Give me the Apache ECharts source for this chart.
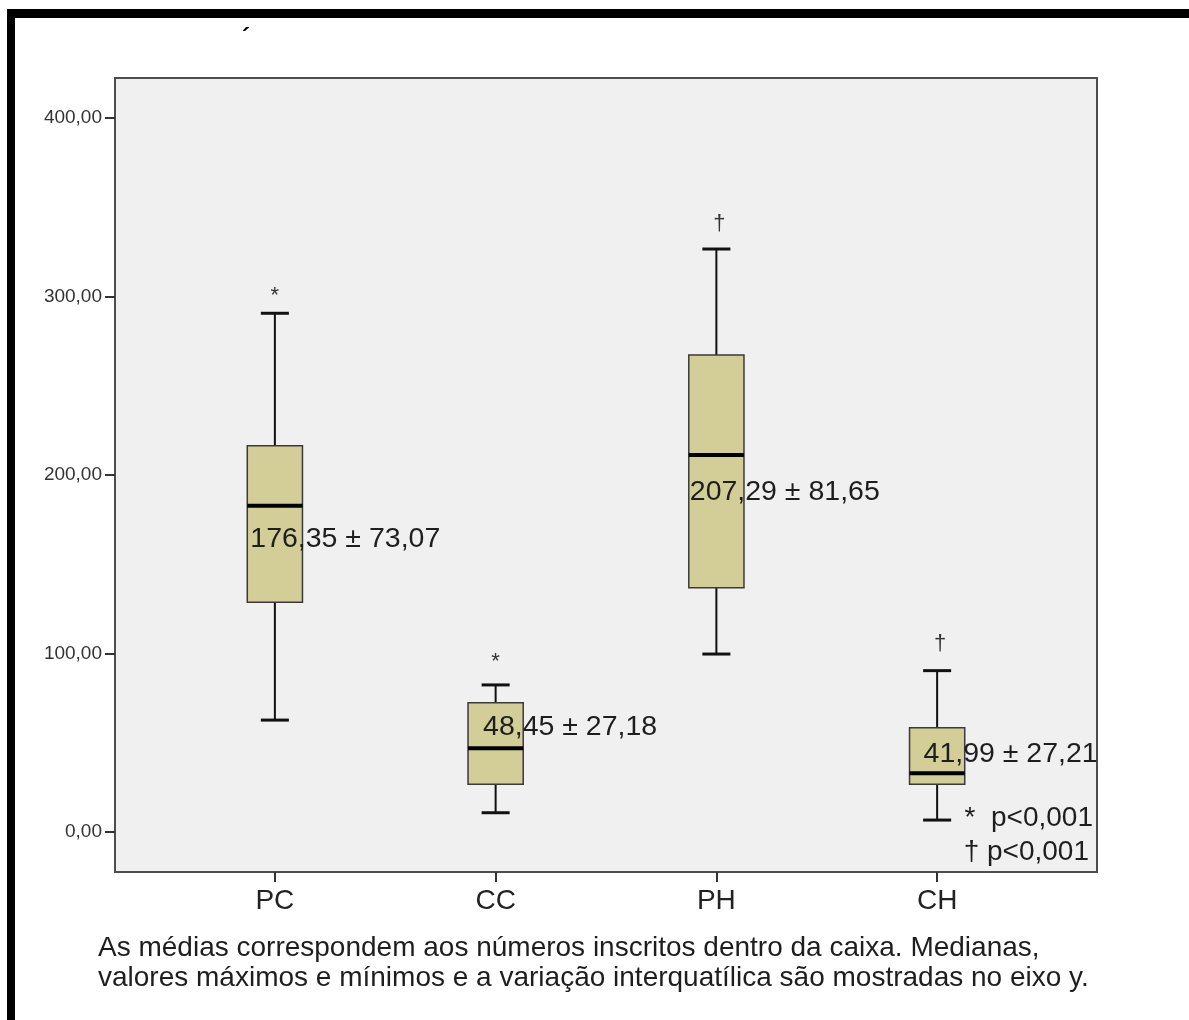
<!DOCTYPE html>
<html><head><meta charset="utf-8">
<style>html,body{margin:0;padding:0;background:#fff}#c{width:1189px;height:1020px}</style>
<script src="https://cdn.jsdelivr.net/npm/echarts@6/dist/echarts.min.js"></script>
</head><body><div id="c"></div>
<script>
const categories = ['PC', 'CC', 'PH', 'CH'];
const whiskerLow = [62.7, 10.8, 99.7, 6.7];
const q1 = [128.7, 26.7, 136.9, 26.7];
const medians = [182.8, 46.9, 211.2, 32.9];
const q3 = [216.4, 72.4, 267.2, 58.4];
const whiskerHigh = [290.6, 82.4, 326.6, 90.4];
const meanLabels = ['176,35 ± 73,07', '48,45 ± 27,18', '207,29 ± 81,65', '41,99 ± 27,21'];
const meanLabelAt = [164.1, 58.8, 190.6, 43.7];
const markers = ['*', '*', '†', '†'];
const yTicks = [0, 100, 200, 300, 400];
const captionLines = [
  'As médias correspondem aos números inscritos dentro da caixa. Medianas,',
  'valores máximos e mínimos e a variação interquatílica são mostradas no eixo y.'
];
const pNotes = ['*  p<0,001', '† p<0,001'];

const FONT = '"Liberation Sans", Arial, sans-serif';
const Y_MIN = -22.4, Y_MAX = 422.4;
const labelShift = [3, 15, 1, 14];
const markerLift = [6, 12, 14, 16];

const chart = echarts.init(document.getElementById('c'), null, {renderer: 'canvas'});

const boxData = categories.map((c, i) => [i, whiskerLow[i], q1[i], medians[i], q3[i], whiskerHigh[i]]);

const option = {
  animation: false,
  backgroundColor: '#ffffff',
  grid: [
    {left: 115, top: 78, width: 982, height: 794, show: true, backgroundColor: '#f0f0f0',
     borderColor: '#4d4d4d', borderWidth: 2, containLabel: false},
    {left: 164.5, top: 78, width: 883, height: 794, containLabel: false}
  ],
  xAxis: [
    {gridIndex: 0, type: 'value', min: 0, max: 1, show: false},
    {gridIndex: 1, type: 'category', data: categories, boundaryGap: true, position: 'bottom',
     axisLine: {show: false, onZero: false},
     axisTick: {show: true, alignWithLabel: true, length: 10, lineStyle: {color: '#333', width: 2}},
     axisLabel: {color: '#222', fontSize: 28, fontFamily: FONT, margin: 15},
     splitLine: {show: false}}
  ],
  yAxis: [
    {gridIndex: 0, type: 'value', min: Y_MIN, max: Y_MAX,
     axisLine: {show: false, onZero: false},
     axisTick: {show: true, length: 10, customValues: yTicks, lineStyle: {color: '#333', width: 2}},
     axisLabel: {show: true, customValues: yTicks, color: '#333', fontSize: 19, fontFamily: FONT, margin: 13,
                 formatter: v => v.toFixed(2).replace('.', ',')},
     splitLine: {show: false}},
    {gridIndex: 1, type: 'value', min: Y_MIN, max: Y_MAX, show: false, splitLine: {show: false}}
  ],
  series: [
    {
      type: 'custom', xAxisIndex: 1, yAxisIndex: 1, data: boxData,
      renderItem: function (params, api) {
        const i = api.value(0);
        const band = api.size([1, 0])[0];
        const bw = band * 0.25, cw = band * 0.127;
        const pLo = api.coord([i, api.value(1)]);
        const pQ1 = api.coord([i, api.value(2)]);
        const pMd = api.coord([i, api.value(3)]);
        const pQ3 = api.coord([i, api.value(4)]);
        const pHi = api.coord([i, api.value(5)]);
        const x = pLo[0];
        const ws = {stroke: '#111', lineWidth: 2};
        return {type: 'group', children: [
          {type: 'line', shape: {x1: x, y1: pHi[1], x2: x, y2: pQ3[1]}, style: ws},
          {type: 'line', shape: {x1: x, y1: pQ1[1], x2: x, y2: pLo[1]}, style: ws},
          {type: 'line', shape: {x1: x - cw / 2, y1: pHi[1], x2: x + cw / 2, y2: pHi[1]}, style: {stroke: '#111', lineWidth: 3}},
          {type: 'line', shape: {x1: x - cw / 2, y1: pLo[1], x2: x + cw / 2, y2: pLo[1]}, style: {stroke: '#111', lineWidth: 3}},
          {type: 'rect', shape: {x: x - bw / 2, y: pQ3[1], width: bw, height: pQ1[1] - pQ3[1]},
           style: {fill: '#d3ce97', stroke: '#3a3a3a', lineWidth: 1.5}},
          {type: 'line', shape: {x1: x - bw / 2, y1: pMd[1], x2: x + bw / 2, y2: pMd[1]}, style: {stroke: '#000', lineWidth: 4}}
        ]};
      }
    },
    {
      type: 'custom', xAxisIndex: 1, yAxisIndex: 1,
      data: categories.map((c, i) => [i, meanLabelAt[i]]),
      z: 5,
      renderItem: function (params, api) {
        const i = api.value(0);
        const band = api.size([1, 0])[0];
        const p = api.coord([i, api.value(1)]);
        return {type: 'text', x: p[0] - band * 0.125 + labelShift[i], y: p[1],
          style: {text: meanLabels[i], fill: '#1e1e1e', font: '28.5px ' + FONT, textAlign: 'left', textVerticalAlign: 'middle'}};
      }
    },
    {
      type: 'custom', xAxisIndex: 1, yAxisIndex: 1,
      data: categories.map((c, i) => [i, whiskerHigh[i]]),
      renderItem: function (params, api) {
        const i = api.value(0);
        const p = api.coord([i, api.value(1)]);
        return {type: 'text', x: p[0] + (markers[i] === '†' ? 3 : 0), y: p[1] - markerLift[i],
          style: {text: markers[i], fill: '#333', font: '22px ' + FONT, textAlign: 'center', textVerticalAlign: 'bottom'}};
      }
    }
  ],
  graphic: [
    {type: 'rect', left: 7, top: 9, shape: {width: 1182, height: 9}, style: {fill: '#000'}, silent: true},
    {type: 'rect', left: 7, top: 9, shape: {width: 8, height: 1011}, style: {fill: '#000'}, silent: true},
    {type: 'text', x: 246, y: 38, style: {text: '´', fill: '#000', font: 'bold 24px ' + FONT, textAlign: 'center', textVerticalAlign: 'middle'}},
    {type: 'text', x: 1093, y: 818, style: {text: pNotes[0], fill: '#1e1e1e', font: '28px ' + FONT, textAlign: 'right', textVerticalAlign: 'middle'}},
    {type: 'text', x: 1089, y: 852, style: {text: pNotes[1], fill: '#1e1e1e', font: '28px ' + FONT, textAlign: 'right', textVerticalAlign: 'middle'}},
    {type: 'text', x: 98, y: 948, style: {text: captionLines[0], fill: '#1e1e1e', font: '28px ' + FONT, textAlign: 'left', textVerticalAlign: 'middle'}},
    {type: 'text', x: 98, y: 978, style: {text: captionLines[1], fill: '#1e1e1e', font: '28px ' + FONT, textAlign: 'left', textVerticalAlign: 'middle'}}
  ]
};
chart.setOption(option);
</script></body></html>
